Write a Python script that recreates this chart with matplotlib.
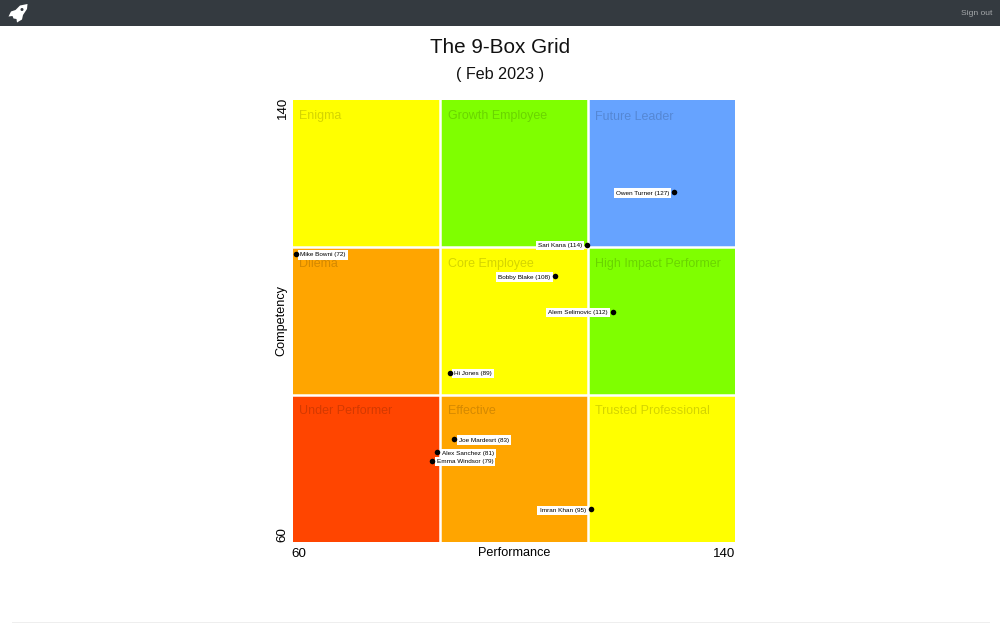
import matplotlib
matplotlib.use("Agg")
import matplotlib.pyplot as plt
from matplotlib.patches import Rectangle, Polygon, Ellipse
from matplotlib.transforms import ScaledTranslation

plt.rcParams['font.family'] = ['Liberation Sans', 'DejaVu Sans']

# box grid, left to right then bottom to top
edges = [60, 86.67, 113.33, 140]
box_names = ['Under Performer', 'Effective', 'Trusted Professional',
             'Dilema', 'Core Employee', 'High Impact Performer',
             'Enigma', 'Growth Employee', 'Future Leader']
box_colors = ['#ff4500', '#ffa500', '#ffff00',
              '#ffa500', '#ffff00', '#7fff00',
              '#ffff00', '#7fff00', '#66a3ff']

people = ['Owen Turner (127)', 'Sari Kana (114)', 'Mike Bowni (72)', 'Bobby Blake (108)',
          'Alem Selimovic (112)', 'Hi Jones (89)', 'Joe Mardesrt (83)', 'Alex Sanchez (81)',
          'Emma Windsor (79)', 'Imran Khan (95)']
performance = [129.0, 113.2, 60.5, 107.5, 117.9, 88.4, 89.2, 86.1, 85.2, 113.9]
competency = [123.3, 113.8, 112.1, 108.1, 101.7, 90.6, 78.6, 76.2, 74.7, 65.9]

W, H = 1000, 625
fig = plt.figure(figsize=(W / 100, H / 100), dpi=100, facecolor='white')


def px(x, y):
    return x / W, 1 - y / H


# page chrome: nav bar, rocket logo, sign out, footer rule
fig.add_artist(Rectangle(px(0, 26), 1, 26 / H, transform=fig.transFigure, color='#343a40', lw=0))
rocket = [(27.5, 4), (27, 9), (23, 15), (22, 19.5), (17, 22.5), (16.5, 19), (13.5, 18.5),
          (12.5, 16), (8.5, 16.5), (11, 11.5), (15.5, 10), (20, 5.5)]
fig.add_artist(Polygon([px(x, y) for x, y in rocket], transform=fig.transFigure, color='white', lw=0))
fig.add_artist(Ellipse(px(22, 9.5), 3 / W, 3 / H, transform=fig.transFigure, color='#343a40', lw=0))
fig.text(*px(992, 13.5), 'Sign out', color='#a5a8ab', fontsize=6.1, ha='right', va='center')
fig.add_artist(Rectangle(px(12, 623), 978 / W, 1 / H, transform=fig.transFigure, color='#eeeeee', lw=0))

fig.text(*px(500, 47.5), 'The 9-Box Grid', fontsize=14.9, color='#111111', ha='center', va='center')
fig.text(*px(500, 74.5), '( Feb 2023 )', fontsize=11.6, color='#111111', ha='center', va='center')

ax = fig.add_axes([293 / W, 1 - 542 / H, 442 / W, 442 / H])
ax.set_xlim(edges[0], edges[-1])
ax.set_ylim(edges[0], edges[-1])

for i, (name, color) in enumerate(zip(box_names, box_colors)):
    col, row = i % 3, i // 3
    ax.bar(edges[col], edges[row + 1] - edges[row], width=edges[col + 1] - edges[col],
           bottom=edges[row], align='edge', color=color, lw=0, zorder=1)
    ax.annotate(name, (edges[col], edges[row + 1]), xytext=(6 if col == 0 else 7.5, -16.5),
                textcoords='offset pixels', fontsize=9.0, color='black', alpha=0.17,
                ha='left', va='center', zorder=2)

for v in edges[1:3]:
    ax.axvline(v, color='white', lw=1.8, zorder=2)
    ax.axhline(v, color='white', lw=1.8, zorder=2)

ax.scatter(performance, competency, s=16, color='black', lw=0, zorder=5, clip_on=False)
for name, x, y in zip(people, performance, competency):
    left = x >= 100
    ax.annotate(name, (x, y), xytext=(-5 if left else 4.5, -0.8), textcoords='offset pixels',
                fontsize=4.6, ha='right' if left else 'left', va='center', zorder=4,
                bbox=dict(fc='white', ec='none', pad=1.5))

for s in ax.spines.values():
    s.set_visible(False)

ax.set_xticks([60, 140])
ax.set_xticklabels(['60', '140'], fontsize=9.6)
ax.get_xticklabels()[0].set_ha('left')
ax.get_xticklabels()[1].set_ha('right')
ax.set_yticks([60, 140])
ax.set_yticklabels(['60', '140'], fontsize=9.6, rotation=90, va='bottom')
ax.get_yticklabels()[1].set_va('top')
ax.tick_params(length=0)
ax.tick_params(axis='x', pad=4.2)
ax.tick_params(axis='y', pad=3.2)


def nudge(label, dx, dy):
    label.set_transform(label.get_transform() + ScaledTranslation(dx / 100, dy / 100, fig.dpi_scale_trans))


nudge(ax.get_xticklabels()[0], -1.5, 0)
nudge(ax.get_xticklabels()[1], 0, 0)
nudge(ax.get_yticklabels()[1], 0, 3)

ax.set_xlabel('Performance', fontsize=9.1)
ax.xaxis.set_label_coords(0.5, -0.0245, transform=ax.transAxes)
ax.xaxis.label.set_va('center')
ax.set_ylabel('Competency', fontsize=9.1)
ax.yaxis.set_label_coords(-0.026, 0.5, transform=ax.transAxes)
ax.yaxis.label.set_va('center')

plt.savefig('out.png', dpi=100)
